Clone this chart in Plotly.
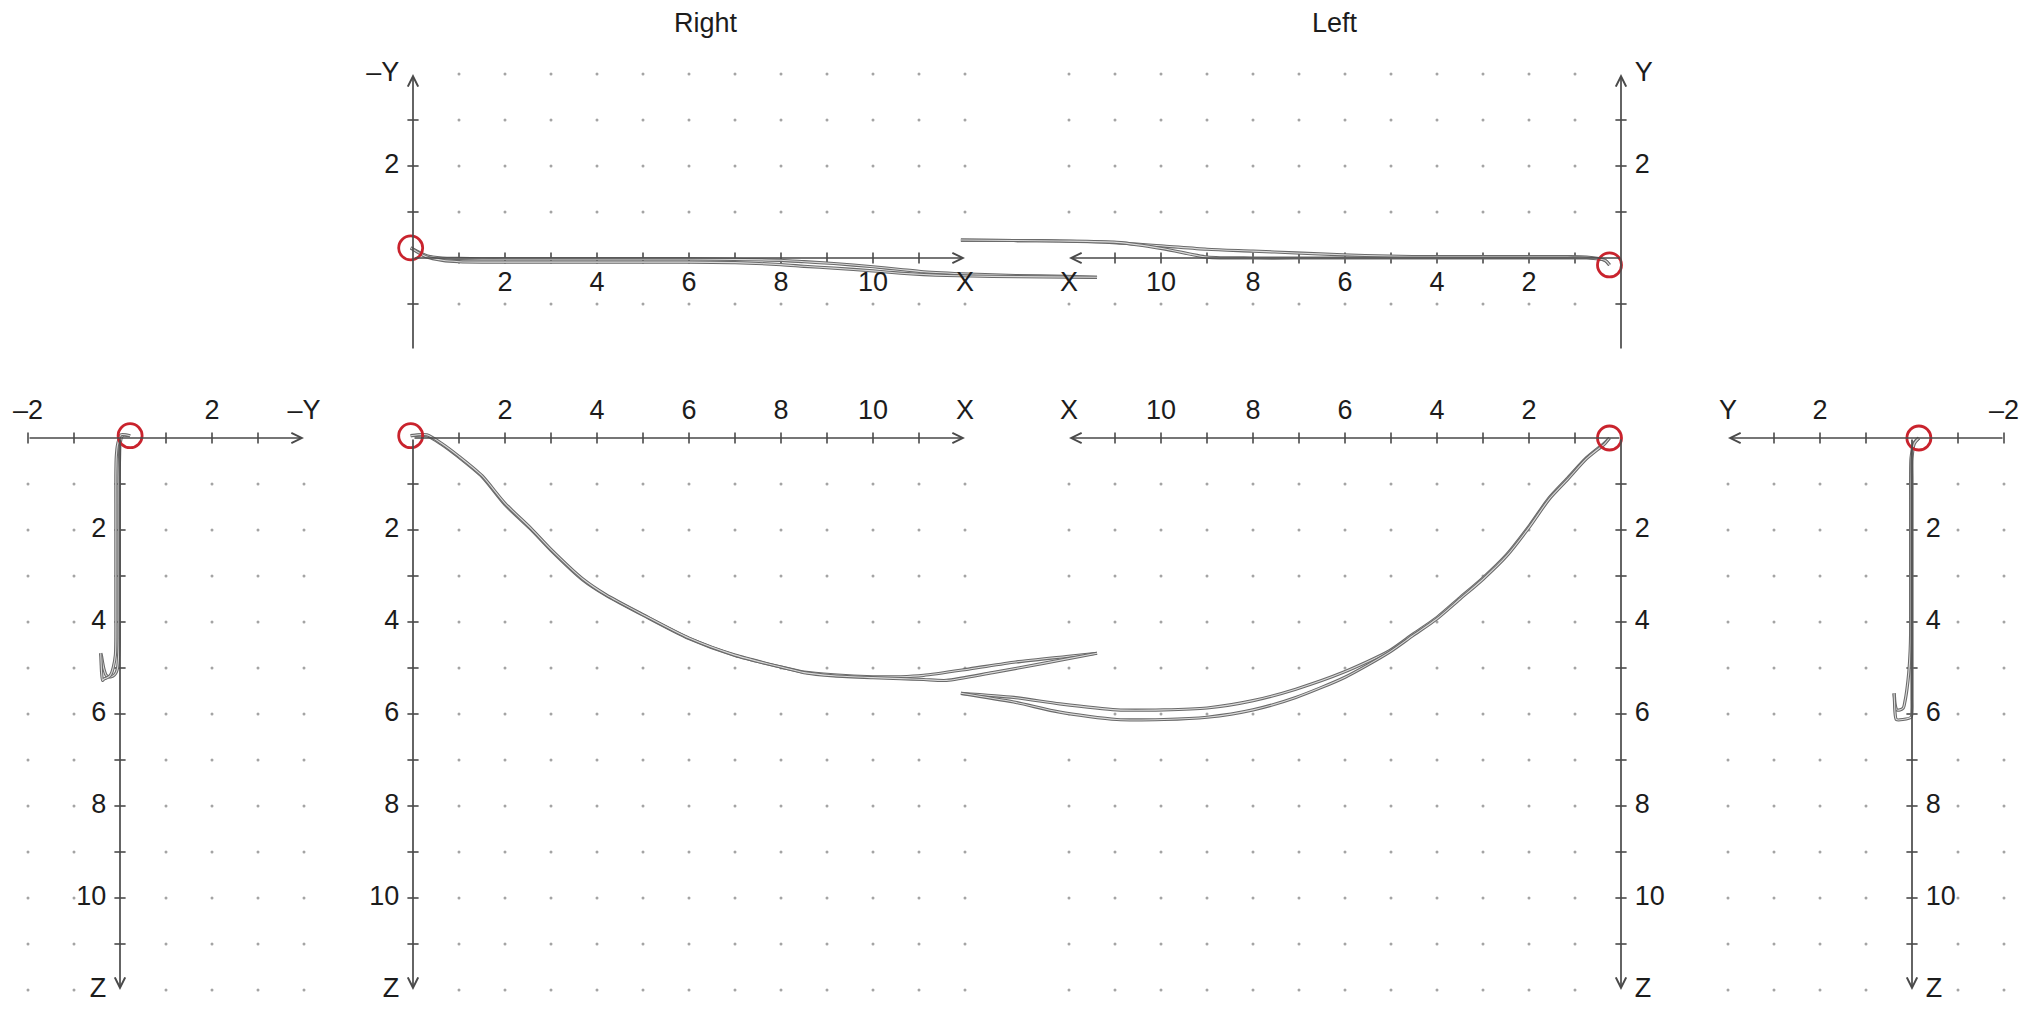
import plotly.graph_objects as go

# ---------------- data ----------------
# Right side: two recorded paths. X (forward), Z (downward) and -Y (lateral, as plotted)
R1_X = [-0.05, 0.30, 0.64, 1.00, 1.50, 2.00, 2.58, 3.00, 3.70, 4.20, 5.00, 6.00, 7.00,
        8.00, 8.50, 9.15, 10.00, 10.60, 11.10, 12.10, 13.10, 14.20, 14.87]
R1_Z = [-0.05, -0.05, 0.15, 0.42, 0.84, 1.45, 2.00, 2.44, 3.09, 3.42, 3.85, 4.36, 4.73,
        4.98, 5.09, 5.15, 5.19, 5.19, 5.16, 5.02, 4.87, 4.75, 4.68]
R1_NEGY = [0.22, 0.05, 0.00, -0.01, -0.02, -0.02, -0.02, -0.02, -0.02, -0.02, -0.02, -0.02,
           -0.03, -0.05, -0.08, -0.12, -0.19, -0.25, -0.30, -0.35, -0.38, -0.40, -0.42]
R2_X = [-0.05, 0.30, 0.64, 1.00, 1.50, 2.00, 2.58, 3.00, 3.70, 4.20, 5.00, 6.00, 7.00,
        8.00, 8.50, 9.15, 10.00, 10.60, 11.10, 11.60, 12.60, 13.70, 14.87]
R2_Z = [-0.05, -0.07, 0.13, 0.40, 0.82, 1.42, 1.98, 2.42, 3.07, 3.41, 3.84, 4.35, 4.72,
        4.98, 5.10, 5.17, 5.21, 5.23, 5.25, 5.27, 5.10, 4.90, 4.68]
R2_NEGY = [0.22, 0.02, -0.05, -0.08, -0.09, -0.09, -0.09, -0.09, -0.09, -0.09, -0.09, -0.09,
           -0.10, -0.145, -0.18, -0.22, -0.28, -0.33, -0.36, -0.38, -0.40, -0.41, -0.42]

# Left side: two recorded paths. X, Z (downward) and Y (lateral)
L1_X = [0.25, 0.35, 0.75, 1.16, 1.57, 1.98, 2.49, 3.00, 3.50, 4.00, 4.53, 5.04, 6.05,
        7.07, 8.00, 9.00, 9.94, 10.96, 12.20, 13.20, 14.35]
L1_Z = [0.00, 0.10, 0.43, 0.87, 1.31, 1.89, 2.54, 3.04, 3.47, 3.90, 4.27, 4.63, 5.10,
        5.46, 5.71, 5.87, 5.91, 5.91, 5.78, 5.64, 5.55]
L1_Y = [-0.15, -0.05, 0.02, 0.03, 0.03, 0.03, 0.03, 0.03, 0.03, 0.03, 0.03, 0.04, 0.07,
        0.11, 0.15, 0.19, 0.26, 0.33, 0.37, 0.38, 0.39]
L2_X = [0.25, 0.35, 0.75, 1.16, 1.57, 1.98, 2.49, 3.00, 3.50, 4.00, 4.53, 5.04, 6.00,
        7.07, 8.00, 9.00, 9.94, 10.96, 12.20, 13.20, 14.35]
L2_Z = [0.00, 0.12, 0.45, 0.90, 1.34, 1.92, 2.57, 3.07, 3.50, 3.93, 4.30, 4.66, 5.20,
        5.64, 5.91, 6.07, 6.12, 6.12, 5.96, 5.74, 5.55]
L2_Y = [-0.15, -0.05, 0.00, 0.00, 0.00, 0.00, 0.00, 0.00, 0.00, 0.00, 0.00, 0.00, 0.00,
        0.00, 0.00, 0.02, 0.20, 0.34, 0.37, 0.38, 0.39]

# axes, grid and tick labels
LONG_AXIS = (0, 12)
LAT_AXIS = (-2, 4)
LONG_GRID = list(range(1, 13))
LAT_GRID = [-2, -1, 1, 2, 3, 4]
LONG_TICKS = list(range(1, 12))
LAT_TICKS = [-2, -1, 1, 2, 3]
LONG_LABEL_VALUES = [2, 4, 6, 8, 10]
LONG_LABEL_TEXT = ['2', '4', '6', '8', '10']
LAT_LABEL_VALUES = [-2, 2]
LAT_LABEL_TEXT = ['–2', '2']
TITLES = ['Right', 'Left']

# ---------------- style / layout ----------------
W, H = 2032, 1022
U = 46.0                      # pixels per unit
AXIS_COLOR = '#4a4a4a'
TEXT_COLOR = '#1c1c1c'
DOT_COLOR = '#a4a4a4'
PATH_DARK = '#6a6a6a'
PATH_LIGHT = '#dadada'
START_COLOR = '#c9232d'
FONT = 'Liberation Sans, Arial, Helvetica, sans-serif'
FS = 27
LAB_GAP_ACROSS = 0.56         # labels placed across the axis line
LAB_GAP_SIDE = 0.30           # labels beside the axis line

panels = [
    # top view, Right
    dict(ox=413, oy=258, hdir=1, vdown=False, box=(300, 1140, 30, 340),
         h_axis=LONG_AXIS, v_axis=LAT_AXIS, h_grid=LONG_GRID, v_grid=LAT_GRID,
         h_ticks=LONG_TICKS, v_ticks=LAT_TICKS,
         h_lab=(LONG_LABEL_VALUES, LONG_LABEL_TEXT, 'X'),
         v_lab=(LAT_LABEL_VALUES, LAT_LABEL_TEXT, '–Y'),
         series=[(R1_X, R1_NEGY), (R2_X, R2_NEGY)]),
    # top view, Left
    dict(ox=1621, oy=258, hdir=-1, vdown=False, box=(880, 1740, 30, 340),
         h_axis=LONG_AXIS, v_axis=LAT_AXIS, h_grid=LONG_GRID, v_grid=LAT_GRID,
         h_ticks=LONG_TICKS, v_ticks=LAT_TICKS,
         h_lab=(LONG_LABEL_VALUES, LONG_LABEL_TEXT, 'X'),
         v_lab=(LAT_LABEL_VALUES, LAT_LABEL_TEXT, 'Y'),
         series=[(L1_X, L1_Y), (L2_X, L2_Y)]),
    # side view, Right
    dict(ox=120, oy=438, hdir=1, vdown=True, box=(0, 350, 380, 1022),
         h_axis=LAT_AXIS, v_axis=LONG_AXIS, h_grid=LAT_GRID, v_grid=LONG_GRID,
         h_ticks=LAT_TICKS, v_ticks=LONG_TICKS,
         h_lab=(LAT_LABEL_VALUES, LAT_LABEL_TEXT, '–Y'),
         v_lab=(LONG_LABEL_VALUES, LONG_LABEL_TEXT, 'Z'),
         series=[(R1_NEGY, R1_Z), (R2_NEGY, R2_Z)]),
    # front view, Right
    dict(ox=413, oy=438, hdir=1, vdown=True, box=(300, 1140, 380, 1022),
         h_axis=LONG_AXIS, v_axis=LONG_AXIS, h_grid=LONG_GRID, v_grid=LONG_GRID,
         h_ticks=LONG_TICKS, v_ticks=LONG_TICKS,
         h_lab=(LONG_LABEL_VALUES, LONG_LABEL_TEXT, 'X'),
         v_lab=(LONG_LABEL_VALUES, LONG_LABEL_TEXT, 'Z'),
         series=[(R1_X, R1_Z), (R2_X, R2_Z)]),
    # front view, Left
    dict(ox=1621, oy=438, hdir=-1, vdown=True, box=(880, 1740, 380, 1022),
         h_axis=LONG_AXIS, v_axis=LONG_AXIS, h_grid=LONG_GRID, v_grid=LONG_GRID,
         h_ticks=LONG_TICKS, v_ticks=LONG_TICKS,
         h_lab=(LONG_LABEL_VALUES, LONG_LABEL_TEXT, 'X'),
         v_lab=(LONG_LABEL_VALUES, LONG_LABEL_TEXT, 'Z'),
         series=[(L1_X, L1_Z), (L2_X, L2_Z)]),
    # side view, Left
    dict(ox=1912, oy=438, hdir=-1, vdown=True, box=(1680, 2032, 380, 1022),
         h_axis=LAT_AXIS, v_axis=LONG_AXIS, h_grid=LAT_GRID, v_grid=LONG_GRID,
         h_ticks=LAT_TICKS, v_ticks=LONG_TICKS,
         h_lab=(LAT_LABEL_VALUES, LAT_LABEL_TEXT, 'Y'),
         v_lab=(LONG_LABEL_VALUES, LONG_LABEL_TEXT, 'Z'),
         series=[(L1_Y, L1_Z), (L2_Y, L2_Z)]),
]

fig = go.Figure()
layout_axes = {}
annotations = []

for i, p in enumerate(panels, start=1):
    sx = '' if i == 1 else str(i)
    xr, yr = 'x' + sx, 'y' + sx
    x0, x1, y0, y1 = p['box']
    hdir, ox, oy = p['hdir'], p['ox'], p['oy']
    h_range = [hdir * (x0 - ox) / U, hdir * (x1 - ox) / U]
    if p['vdown']:
        v_range = [(y1 - oy) / U, (y0 - oy) / U]
    else:
        v_range = [(oy - y1) / U, (oy - y0) / U]
    layout_axes['xaxis' + sx] = dict(domain=[x0 / W, x1 / W], range=h_range, visible=False,
                                     anchor=yr, fixedrange=True)
    layout_axes['yaxis' + sx] = dict(domain=[1 - y1 / H, 1 - y0 / H], range=v_range,
                                     visible=False, anchor=xr, fixedrange=True)

    # dotted grid
    gx = [h for h in p['h_grid'] for v in p['v_grid']]
    gy = [v for h in p['h_grid'] for v in p['v_grid']]
    fig.add_trace(go.Scatter(x=gx, y=gy, xaxis=xr, yaxis=yr, mode='markers',
                             marker=dict(size=3, color=DOT_COLOR), hoverinfo='skip'))

    # axis tick crosses
    fig.add_trace(go.Scatter(x=p['h_ticks'], y=[0] * len(p['h_ticks']), xaxis=xr, yaxis=yr,
                             mode='markers', hoverinfo='skip',
                             marker=dict(symbol='line-ns', size=8, color=AXIS_COLOR,
                                         line=dict(width=1.6, color=AXIS_COLOR))))
    fig.add_trace(go.Scatter(x=[0] * len(p['v_ticks']), y=p['v_ticks'], xaxis=xr, yaxis=yr,
                             mode='markers', hoverinfo='skip',
                             marker=dict(symbol='line-ew', size=8, color=AXIS_COLOR,
                                         line=dict(width=1.6, color=AXIS_COLOR))))

    # axis lines with arrow heads
    annotations.append(dict(x=p['h_axis'][1], y=0, ax=p['h_axis'][0], ay=0,
                            xref=xr, yref=yr, axref=xr, ayref=yr, text='', showarrow=True,
                            arrowhead=5, arrowsize=1.2, arrowwidth=1.7, arrowcolor=AXIS_COLOR,
                            standoff=0, startstandoff=0))
    annotations.append(dict(x=0, y=p['v_axis'][1], ax=0, ay=p['v_axis'][0],
                            xref=xr, yref=yr, axref=xr, ayref=yr, text='', showarrow=True,
                            arrowhead=5, arrowsize=1.2, arrowwidth=1.7, arrowcolor=AXIS_COLOR,
                            standoff=0, startstandoff=0))

    # recorded paths (hollow grey strokes)
    for hs, vs in p['series']:
        fig.add_trace(go.Scatter(x=hs, y=vs, xaxis=xr, yaxis=yr, mode='lines',
                                 line=dict(color=PATH_DARK, width=3.2, shape='spline',
                                           smoothing=0.7), hoverinfo='skip'))
        fig.add_trace(go.Scatter(x=hs, y=vs, xaxis=xr, yaxis=yr, mode='lines',
                                 line=dict(color=PATH_LIGHT, width=1.1, shape='spline',
                                           smoothing=0.7), hoverinfo='skip'))

    # start position marker
    hs, vs = p['series'][0]
    fig.add_trace(go.Scatter(x=[hs[0]], y=[vs[0]], xaxis=xr, yaxis=yr, mode='markers',
                             cliponaxis=False, hoverinfo='skip',
                             marker=dict(symbol='circle-open', size=24, color=START_COLOR,
                                         line=dict(width=2.8, color=START_COLOR))))

    # labels across the horizontal axis
    hv, ht, hname = p['h_lab']
    fig.add_trace(go.Scatter(x=hv + [p['h_axis'][1]], y=[-LAB_GAP_ACROSS] * (len(hv) + 1),
                             xaxis=xr, yaxis=yr, mode='text', text=ht + [hname],
                             textposition='middle center', cliponaxis=False, hoverinfo='skip',
                             textfont=dict(family=FONT, size=FS, color=TEXT_COLOR)))
    # labels beside the vertical axis
    vv, vt, vname = p['v_lab']
    fig.add_trace(go.Scatter(x=[-LAB_GAP_SIDE] * (len(vv) + 1), y=vv + [p['v_axis'][1]],
                             xaxis=xr, yaxis=yr, mode='text', text=vt + [vname],
                             textposition='middle left' if hdir == 1 else 'middle right',
                             cliponaxis=False, hoverinfo='skip',
                             textfont=dict(family=FONT, size=FS, color=TEXT_COLOR)))

annotations.append(dict(x=706 / W, y=1 - 23 / H, xref='paper', yref='paper', text=TITLES[0],
                        xanchor='center', yanchor='middle', showarrow=False,
                        font=dict(family=FONT, size=FS, color=TEXT_COLOR)))
annotations.append(dict(x=1335 / W, y=1 - 23 / H, xref='paper', yref='paper', text=TITLES[1],
                        xanchor='center', yanchor='middle', showarrow=False,
                        font=dict(family=FONT, size=FS, color=TEXT_COLOR)))

fig.update_layout(
    width=W, height=H, margin=dict(l=0, r=0, t=0, b=0),
    paper_bgcolor='white', plot_bgcolor='rgba(0,0,0,0)',
    showlegend=False, hovermode=False, template='none',
    font=dict(family=FONT, size=FS, color=TEXT_COLOR),
    annotations=annotations, **layout_axes)

fig.write_html("out.html", config=dict(displayModeBar=False, staticPlot=True),
               post_script="document.body.style.margin='0';document.body.style.overflow='hidden';")
